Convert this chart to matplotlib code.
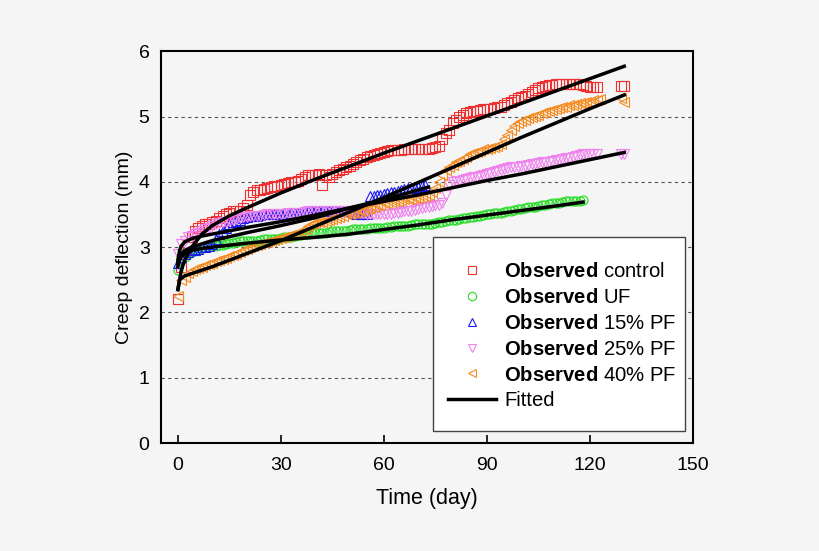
import matplotlib
matplotlib.use('Agg')
import matplotlib.pyplot as plt
from matplotlib.lines import Line2D
from matplotlib.patches import Rectangle

plt.rcParams['font.family'] = ['Liberation Sans', 'DejaVu Sans']
plt.rcParams['mathtext.fontset'] = 'custom'
plt.rcParams['mathtext.bf'] = 'Liberation Sans:bold'
plt.rcParams['mathtext.rm'] = 'Liberation Sans'

t_control = list(range(0, 123)) + [129, 130]
v_control = [2.2, 2.7, 2.9, 3.05, 3.15, 3.25, 3.3, 3.32, 3.35, 3.36,
             3.38, 3.4, 3.45, 3.48, 3.5, 3.52, 3.55, 3.55, 3.55, 3.6,
             3.65, 3.8, 3.85, 3.87, 3.88, 3.89, 3.9, 3.92, 3.93, 3.94,
             3.95, 3.96, 3.98, 3.99, 4.0, 4.02, 4.05, 4.08, 4.1, 4.1,
             4.1, 4.12, 3.95, 4.1, 4.08, 4.12, 4.15, 4.18, 4.2, 4.22,
             4.25, 4.28, 4.3, 4.33, 4.35, 4.38, 4.4, 4.41, 4.42, 4.44,
             4.45, 4.47, 4.48, 4.48, 4.48, 4.49, 4.5, 4.5, 4.5, 4.5,
             4.5, 4.5, 4.5, 4.51, 4.52, 4.53, 4.55, 4.65, 4.75, 4.8,
             4.9, 4.95, 5.0, 5.03, 5.05, 5.07, 5.08, 5.09, 5.1, 5.11,
             5.12, 5.12, 5.13, 5.14, 5.15, 5.18, 5.2, 5.22, 5.25, 5.28,
             5.3, 5.32, 5.35, 5.38, 5.4, 5.43, 5.45, 5.47, 5.48, 5.49,
             5.5, 5.5, 5.5, 5.5, 5.5, 5.5, 5.5, 5.5, 5.48, 5.47,
             5.46, 5.46, 5.46, 5.47, 5.47]

t_uf = list(range(0, 119))
v_uf = [2.65, 2.8, 2.85, 2.9, 2.92, 2.95, 2.97, 2.98, 3.0, 3.0,
        3.01, 3.02, 3.03, 3.04, 3.05, 3.06, 3.07, 3.08, 3.09, 3.1,
        3.1, 3.1, 3.1, 3.1, 3.11, 3.12, 3.12, 3.12, 3.13, 3.13,
        3.14, 3.15, 3.15, 3.16, 3.17, 3.18, 3.19, 3.2, 3.2, 3.21,
        3.22, 3.22, 3.22, 3.22, 3.23, 3.24, 3.25, 3.25, 3.25, 3.25,
        3.26, 3.27, 3.27, 3.28, 3.28, 3.28, 3.29, 3.3, 3.3, 3.3,
        3.3, 3.31, 3.31, 3.32, 3.32, 3.33, 3.33, 3.33, 3.34, 3.35,
        3.35, 3.35, 3.35, 3.36, 3.36, 3.37, 3.38, 3.39, 3.4, 3.41,
        3.41, 3.42, 3.43, 3.44, 3.45, 3.46, 3.46, 3.47, 3.48, 3.49,
        3.5, 3.51, 3.52, 3.52, 3.53, 3.54, 3.55, 3.56, 3.57, 3.58,
        3.59, 3.6, 3.61, 3.61, 3.62, 3.63, 3.64, 3.65, 3.66, 3.67,
        3.67, 3.68, 3.69, 3.7, 3.7, 3.7, 3.71, 3.71, 3.72]

t_pf15 = list(range(0, 73))
v_pf15 = [2.75, 2.85, 2.9, 2.92, 2.95, 2.95, 2.97, 3.0, 3.0, 3.02,
          3.05, 3.12, 3.2, 3.25, 3.3, 3.35, 3.38, 3.4, 3.42, 3.45,
          3.46, 3.47, 3.48, 3.48, 3.49, 3.5, 3.5, 3.5, 3.5, 3.5,
          3.5, 3.5, 3.51, 3.52, 3.52, 3.53, 3.54, 3.55, 3.55, 3.55,
          3.55, 3.55, 3.55, 3.55, 3.56, 3.56, 3.56, 3.55, 3.55, 3.55,
          3.55, 3.52, 3.5, 3.5, 3.5, 3.5, 3.78, 3.78, 3.8, 3.8,
          3.82, 3.83, 3.84, 3.85, 3.86, 3.88, 3.89, 3.9, 3.9, 3.9,
          3.92, 3.93, 3.95]

t_pf25 = list(range(0, 123)) + [129, 130]
v_pf25 = [2.9, 3.05, 3.1, 3.15, 3.17, 3.2, 3.22, 3.25, 3.28, 3.3,
          3.32, 3.35, 3.37, 3.38, 3.39, 3.4, 3.42, 3.43, 3.45, 3.46,
          3.46, 3.47, 3.47, 3.48, 3.48, 3.49, 3.5, 3.5, 3.5, 3.5,
          3.5, 3.51, 3.52, 3.52, 3.53, 3.53, 3.53, 3.54, 3.55, 3.55,
          3.55, 3.55, 3.55, 3.55, 3.55, 3.55, 3.55, 3.55, 3.55, 3.55,
          3.55, 3.54, 3.53, 3.52, 3.52, 3.51, 3.5, 3.5, 3.5, 3.5,
          3.5, 3.5, 3.51, 3.52, 3.53, 3.54, 3.55, 3.55, 3.56, 3.57,
          3.58, 3.6, 3.61, 3.62, 3.63, 3.64, 3.65, 3.68, 3.8, 3.95,
          4.0, 4.01, 4.02, 4.03, 4.04, 4.06, 4.07, 4.08, 4.09, 4.1,
          4.12, 4.14, 4.15, 4.17, 4.18, 4.2, 4.21, 4.22, 4.22, 4.23,
          4.24, 4.25, 4.26, 4.27, 4.28, 4.29, 4.3, 4.3, 4.31, 4.32,
          4.33, 4.34, 4.35, 4.36, 4.37, 4.38, 4.4, 4.41, 4.42, 4.42,
          4.42, 4.42, 4.42, 4.42, 4.42]

t_pf40 = list(range(0, 124)) + [129, 130]
v_pf40 = [2.25, 2.5, 2.55, 2.6, 2.63, 2.66, 2.68, 2.7, 2.72, 2.74,
          2.76, 2.78, 2.8, 2.82, 2.84, 2.86, 2.88, 2.9, 2.92, 2.95,
          2.97, 3.0, 3.01, 3.03, 3.05, 3.06, 3.08, 3.1, 3.11, 3.12,
          3.14, 3.15, 3.17, 3.18, 3.2, 3.22, 3.25, 3.28, 3.32, 3.35,
          3.37, 3.38, 3.39, 3.4, 3.42, 3.43, 3.45, 3.46, 3.48, 3.5,
          3.51, 3.52, 3.54, 3.55, 3.56, 3.58, 3.6, 3.62, 3.64, 3.65,
          3.67, 3.68, 3.69, 3.7, 3.71, 3.72, 3.73, 3.73, 3.74, 3.75,
          3.76, 3.77, 3.78, 3.8, 3.85, 3.9, 4.0, 4.1, 4.18, 4.22,
          4.26, 4.3, 4.32, 4.35, 4.38, 4.42, 4.44, 4.45, 4.47, 4.5,
          4.51, 4.52, 4.53, 4.55, 4.58, 4.65, 4.72, 4.8, 4.85, 4.9,
          4.93, 4.95, 4.97, 5.0, 5.01, 5.03, 5.05, 5.07, 5.08, 5.1,
          5.11, 5.13, 5.14, 5.15, 5.17, 5.18, 5.19, 5.2, 5.21, 5.22,
          5.23, 5.25, 5.26, 5.27, 5.28, 5.22]

# fitted curves
tf_control = [0, 1, 2, 4, 7, 10, 15, 20, 30, 40, 50, 60, 70, 80, 90, 100, 110, 120, 130]
vf_control = [2.35, 2.65, 2.8, 3.0, 3.2, 3.33, 3.48, 3.6, 3.83, 4.04, 4.24, 4.44, 4.63, 4.82, 5.01,
              5.2, 5.39, 5.58, 5.77]
tf_uf = [0, 0.5, 1, 2, 4, 7, 10, 20, 30, 40, 50, 60, 70, 80, 90, 100, 110, 118]
vf_uf = [2.7, 2.8, 2.85, 2.9, 2.95, 2.98, 3.0, 3.06, 3.11, 3.15, 3.2, 3.27, 3.34, 3.42, 3.49, 3.56,
         3.63, 3.69]
tf_pf15 = [0, 0.5, 1, 2, 4, 7, 10, 20, 30, 40, 50, 60, 73]
vf_pf15 = [2.75, 2.85, 2.9, 2.95, 3.0, 3.05, 3.1, 3.22, 3.33, 3.45, 3.6, 3.73, 3.92]
tf_pf25 = [0, 0.5, 1, 2, 4, 7, 10, 20, 30, 40, 50, 60, 70, 80, 90, 100, 110, 120, 130]
vf_pf25 = [2.8, 2.95, 3.02, 3.08, 3.13, 3.17, 3.2, 3.3, 3.39, 3.49, 3.6, 3.7, 3.8, 3.91, 4.02, 4.12,
           4.23, 4.34, 4.45]
tf_pf40 = [0, 0.5, 2, 10, 20, 30, 40, 50, 60, 70, 80, 90, 100, 110, 120, 130]
vf_pf40 = [2.35, 2.5, 2.56, 2.7, 2.9, 3.1, 3.32, 3.54, 3.76, 3.99, 4.22, 4.45, 4.68, 4.9, 5.12, 5.33]

c_control = '#f03030'
c_uf = '#22dd22'
c_pf15 = '#1a1aee'
c_pf25 = '#ee82ee'
c_pf40 = '#f58a1f'

bg = '#f5f5f5'
fig = plt.figure(figsize=(8.2, 5.51), dpi=100, facecolor=bg)
ax = fig.add_axes([0.196, 0.196, 0.649, 0.711])
ax.set_facecolor(bg)

for y in [1, 2, 3, 4, 5]:
    ax.axhline(y, color='#555555', lw=0.8, ls=(0, (3, 3)), zorder=0)

ms = 6.5
ax.plot(t_control, v_control, 's', mfc='none', mec=c_control, ms=ms, mew=0.8)
ax.plot(t_uf, v_uf, 'o', mfc='none', mec=c_uf, ms=ms, mew=0.8)
ax.plot(t_pf15, v_pf15, '^', mfc='none', mec=c_pf15, ms=ms, mew=0.8)
ax.plot(t_pf25, v_pf25, 'v', mfc='none', mec=c_pf25, ms=ms, mew=0.8)
ax.plot(t_pf40, v_pf40, '<', mfc='none', mec=c_pf40, ms=ms, mew=0.8)

for tf, vf in [(tf_control, vf_control), (tf_uf, vf_uf), (tf_pf15, vf_pf15),
               (tf_pf25, vf_pf25), (tf_pf40, vf_pf40)]:
    ax.plot(tf, vf, '-', color='black', lw=2.5)

ax.set_xlim(-5, 150)
ax.set_ylim(0, 6)
ax.set_xticks([0, 30, 60, 90, 120, 150])
ax.set_yticks([0, 1, 2, 3, 4, 5, 6])
ax.tick_params(axis='x', direction='in', length=6, width=1.2, labelsize=14, pad=10)
ax.tick_params(axis='y', length=0, labelsize=14, pad=8)
for s in ax.spines.values():
    s.set_linewidth(1.5)
ax.set_xlabel('Time (day)', fontsize=15.5, labelpad=10)
ax.set_ylabel('Creep deflection (mm)', fontsize=14, labelpad=4)

# legend box drawn separately so padding matches
ax.add_patch(Rectangle((0.511, 0.031), 0.474, 0.495, transform=ax.transAxes,
                       facecolor='white', edgecolor='#444444', lw=1.0, zorder=4))

handles = [
    Line2D([], [], ls='none', marker='s', mfc='none', mec=c_control, ms=6, mew=0.8),
    Line2D([], [], ls='none', marker='o', mfc='none', mec=c_uf, ms=6, mew=0.8),
    Line2D([], [], ls='none', marker='^', mfc='none', mec=c_pf15, ms=6, mew=0.8),
    Line2D([], [], ls='none', marker='v', mfc='none', mec=c_pf25, ms=6, mew=0.8),
    Line2D([], [], ls='none', marker='<', mfc='none', mec=c_pf40, ms=6, mew=0.8),
    Line2D([], [], color='black', lw=2.5),
]
labels = [r'$\bf{Observed}$ control', r'$\bf{Observed}$ UF', r'$\bf{Observed}$ 15% PF',
          r'$\bf{Observed}$ 25% PF', r'$\bf{Observed}$ 40% PF', 'Fitted']
leg = ax.legend(handles, labels, loc='upper left', bbox_to_anchor=(0.539, 0.462),
                fontsize=14.6, frameon=False, handlelength=2.37, handletextpad=0.41,
                labelspacing=0.34, borderpad=0, borderaxespad=0)
leg.set_zorder(5)

fig.savefig('out.png', dpi=100, facecolor=bg)
